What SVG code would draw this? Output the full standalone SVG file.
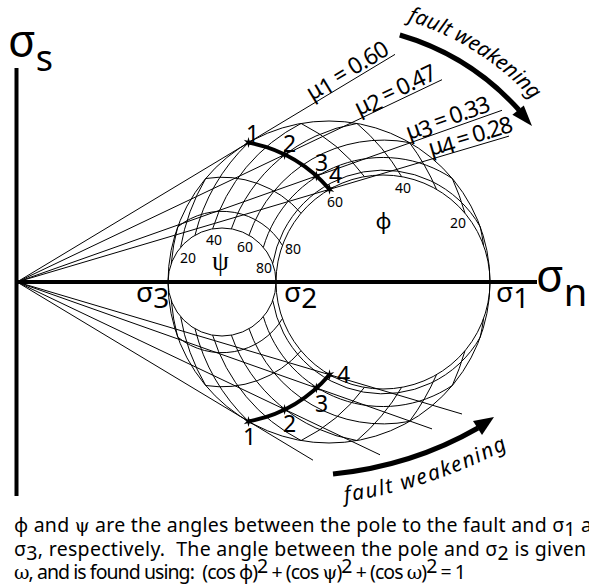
<svg xmlns="http://www.w3.org/2000/svg" xmlns:xlink="http://www.w3.org/1999/xlink" width="589" height="584" viewBox="0 0 589 584">
<style>
.thin{fill:none;stroke:#000;stroke-width:1}
.axis{fill:none;stroke:#000;stroke-width:4}
.thick{fill:none;stroke:#000;stroke-width:4}
.arrow{fill:none;stroke:#000;stroke-width:5}
text{font-family:"Noto Sans","Open Sans",sans-serif;fill:#000}
.sig{font-size:28px}
.num{font-size:23px}
.deg{font-size:14px}
.mu{font-size:23px}
.fw{font-size:21px;font-style:italic}
.cap{font-family:Lato,"Noto Sans",sans-serif;font-size:19.5px}
.sym{font-family:"Liberation Serif","DejaVu Serif",serif}
.csym{font-family:"DejaVu Serif",serif;font-size:19px}
.phi{font-family:"Noto Sans","DejaVu Sans",sans-serif}
</style>
<defs>
<path id="star" d="M0,-5.5 L1,-1.73 L4.76,-2.75 L2,0 L4.76,2.75 L1,1.73 L0,5.5 L-1,1.73 L-4.76,2.75 L-2,0 L-4.76,-2.75 L-1,-1.73 Z" fill="#000"/>
<path id="fwTop" d="M397.8,18.2 A273,273 0 0 1 552.6,125.4"/>
<path id="fwBot" d="M343,502 Q432,490 520,442"/>
</defs>

<g id="axes">
<line class="axis" x1="16.5" y1="68" x2="16.5" y2="496"/>
<line class="axis" x1="15" y1="282" x2="537" y2="282"/>
</g>

<g id="circles">
<circle class="thin" cx="329" cy="282" r="161"/>
<circle class="thin" cx="222" cy="282" r="54"/>
<circle class="thin" cx="383" cy="282" r="107"/>
</g>

<g id="grid">
<g id="grid-upper" class="thin">
<path d="M480.3,226.9 A264.1,264.1 0 0 1 483.55,245.4"/>
<path d="M452.3,178.5 A252.5,252.5 0 0 1 464.96,213.2"/>
<path d="M409.5,142.6 A233.6,233.6 0 0 1 436.5,189.3"/>
<path d="M356.95,123.45 A208.2,208.2 0 0 1 401.6,176.6"/>
<path d="M301.05,123.45 A177.2,177.2 0 0 1 364.4,176.6"/>
<path d="M248.5,142.6 A141.9,141.9 0 0 1 329.5,189.3"/>
<path d="M205.7,178.5 A104.8,104.8 0 0 1 301.0,213.2"/>
<path d="M177.7,226.9 A70.7,70.7 0 0 1 282.45,245.4"/>
<path d="M171.26,263.53 A212.5,212.5 0 0 1 177.7,226.9"/>
<path d="M180.64,247.29 A205.3,205.3 0 0 1 205.7,178.5"/>
<path d="M195,235.24 A193.7,193.7 0 0 1 248.5,142.6"/>
<path d="M212.62,228.82 A178.5,178.5 0 0 1 301.05,123.45"/>
<path d="M231.38,228.82 A160.7,160.7 0 0 1 356.95,123.45"/>
<path d="M249,235.24 A141.9,141.9 0 0 1 409.5,142.6"/>
<path d="M263.36,247.29 A124.6,124.6 0 0 1 452.3,178.5"/>
<path d="M272.74,263.53 A111.8,111.8 0 0 1 480.3,226.9"/>
</g>
<use xlink:href="#grid-upper" transform="matrix(1 0 0 -1 0 564)"/>
</g>

<g id="connectors" class="thin">
<line x1="17" y1="282" x2="395" y2="54.4"/>
<line x1="17" y1="282" x2="442" y2="79.7"/>
<line x1="17" y1="282" x2="502" y2="110.3"/>
<line x1="17" y1="282" x2="509" y2="136.1"/>
<line x1="17" y1="282" x2="313" y2="460.2"/>
<line x1="17" y1="282" x2="380" y2="454.8"/>
<line x1="17" y1="282" x2="432" y2="428.9"/>
<line x1="17" y1="282" x2="462" y2="414"/>
</g>

<g id="weakening-path">
<path class="thick" d="M248.5,142.6 A141.9,141.9 0 0 1 329.5,189.3"/>
<path class="thick" d="M248.5,421.4 A141.9,141.9 0 0 0 329.5,374.7"/>
<use xlink:href="#star" x="248.5" y="142.6"/>
<use xlink:href="#star" x="284.6" y="154.6"/>
<use xlink:href="#star" x="316.4" y="176"/>
<use xlink:href="#star" x="329.5" y="189.3"/>
<use xlink:href="#star" x="248.5" y="421.4"/>
<use xlink:href="#star" x="284.6" y="409.4"/>
<use xlink:href="#star" x="316.4" y="388"/>
<use xlink:href="#star" x="329.5" y="374.7"/>
<text class="num" x="246" y="142">1</text>
<text class="num" x="283" y="152">2</text>
<text class="num" x="315" y="171">3</text>
<text class="num" x="329" y="183">4</text>
<text class="num" x="243" y="445">1</text>
<text class="num" x="283" y="431.5">2</text>
<text class="num" x="315" y="411.5">3</text>
<text class="num" x="337" y="383">4</text>
</g>

<g id="mu-labels" class="mu">
<text transform="translate(312,101) rotate(-31.05)" textLength="92">μ<tspan dy="3">1</tspan><tspan dy="-3"> = 0.60</tspan></text>
<text transform="translate(359,116) rotate(-25.45)" textLength="88">μ<tspan dy="3">2</tspan><tspan dy="-3"> = 0.47</tspan></text>
<text transform="translate(409,140) rotate(-19.5)" textLength="88">μ<tspan dy="3">3</tspan><tspan dy="-3"> = 0.33</tspan></text>
<text transform="translate(431,156) rotate(-16.5)" textLength="87">μ<tspan dy="3">4</tspan><tspan dy="-3"> = 0.28</tspan></text>
</g>

<g id="angle-labels">
<text class="deg" x="450" y="228">20</text>
<text class="deg" x="395" y="193">40</text>
<text class="deg" x="327" y="206.5">60</text>
<text class="deg" x="285" y="254">80</text>
<text class="deg" x="180" y="263">20</text>
<text class="deg" x="206" y="245">40</text>
<text class="deg" x="237" y="251.5">60</text>
<text class="deg" x="256" y="273">80</text>
<text class="phi" x="383.5" y="229" font-size="22" text-anchor="middle">ϕ</text>
<text class="sym" x="212" y="270" font-size="27">ψ</text>
</g>

<g id="axis-labels">
<text x="8" y="57" font-size="45">σ<tspan font-size="36" dy="14">s</tspan></text>
<text x="536" y="292" font-size="45">σ<tspan font-size="38" dy="14">n</tspan></text>
<text class="sig" x="136" y="302">σ<tspan dy="6">3</tspan></text>
<text class="sig" x="284" y="302">σ<tspan dy="6">2</tspan></text>
<text class="sig" x="496" y="302">σ<tspan dy="6">1</tspan></text>
</g>

<g id="fault-weakening">
<path class="arrow" d="M399.8,35 A257,257 0 0 1 519,110"/>
<polygon points="532,126 512.4,114.8 523.8,105.4" fill="#000"/>
<text class="fw"><textPath xlink:href="#fwTop" startOffset="10" textLength="150">fault weakening</textPath></text>
<path class="arrow" d="M333,474 Q412,466 478,428"/>
<polygon points="494,417 473,421 482,435" fill="#000"/>
<text class="fw" font-size="22"><textPath xlink:href="#fwBot" startOffset="2" textLength="172">fault weakening</textPath></text>
</g>

<g id="caption" class="cap">
<text x="14" y="532" xml:space="preserve" textLength="578"><tspan class="phi">ϕ</tspan> and <tspan class="csym">ψ</tspan> are the angles between the pole to the fault and σ<tspan dy="4">1</tspan><tspan dy="-4"> a</tspan></text>
<text x="14" y="556" xml:space="preserve" textLength="572">σ<tspan dy="4">3</tspan><tspan dy="-4">, respectively.  The angle between the pole and σ</tspan><tspan dy="4">2</tspan><tspan dy="-4"> is given</tspan></text>
<text x="14" y="579" xml:space="preserve" textLength="452"><tspan class="csym">ω</tspan>, and is found using:  (cos <tspan class="phi">ϕ</tspan>)<tspan dy="-6">2</tspan><tspan dy="6"> + (cos </tspan><tspan class="csym">ψ</tspan>)<tspan dy="-6">2</tspan><tspan dy="6"> + (cos </tspan><tspan class="csym">ω</tspan>)<tspan dy="-6">2</tspan><tspan dy="6"> = 1</tspan></text>
</g>
</svg>
